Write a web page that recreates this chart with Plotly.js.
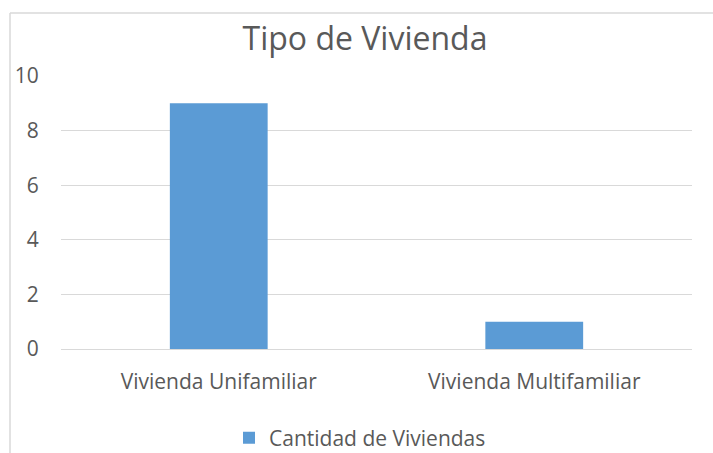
<!DOCTYPE html>
<html>
<head>
<meta charset="utf-8">
<script src="https://cdn.plot.ly/plotly-3.0.1.min.js"></script>
<style>html,body{margin:0;padding:0;background:#fff;}#chart{width:713px;height:453px;}</style>
</head>
<body>
<div id="chart"></div>
<script>
const categories = ["Vivienda Unifamiliar", "Vivienda Multifamiliar"];
const cantidad = [9, 1];
const seriesName = "Cantidad de Viviendas";
const chartTitle = "Tipo de Vivienda";
const yTicks = [0, 2, 4, 6, 8, 10];

const textColor = "#595959";
const gridColor = "#d9d9d9";
const fontFam = "'Open Sans', 'Noto Sans', sans-serif";

const W = 713, H = 453;
const m = {l: 61, r: 21, t: 76, b: 104};
const pw = W - m.l - m.r, ph = H - m.t - m.b;
const px = v => (v - m.l) / pw;
const py = v => (H - m.b - v) / ph;

const data = [{
  type: "bar",
  x: categories,
  y: cantidad,
  name: seriesName,
  marker: {color: "#5B9BD5"},
  showlegend: true
}];

const layout = {
  width: W, height: H,
  margin: m,
  paper_bgcolor: "#ffffff",
  plot_bgcolor: "#ffffff",
  font: {family: fontFam, color: textColor, size: 21},
  title: {
    text: chartTitle,
    font: {size: 32, color: textColor, family: fontFam},
    xref: "container", x: 365 / W, xanchor: "center",
    yref: "container", y: 1 - 39 / H, yanchor: "middle"
  },
  bargap: 0.69,
  xaxis: {
    type: "category",
    showgrid: false,
    showline: false,
    zeroline: false,
    ticks: "outside", ticklen: 14, tickcolor: "rgba(0,0,0,0)",
    tickfont: {size: 21, color: textColor}
  },
  yaxis: {
    range: [0, 10],
    tickvals: yTicks,
    showgrid: true, gridcolor: gridColor, gridwidth: 1,
    zeroline: true, zerolinecolor: gridColor, zerolinewidth: 1,
    showline: false,
    ticks: "outside", ticklen: 17, tickcolor: "rgba(0,0,0,0)",
    tickfont: {size: 21, color: textColor}
  },
  showlegend: true,
  legend: {
    orientation: "h",
    xref: "container", x: 360 / W, xanchor: "center",
    yref: "container", y: (H - 438) / H, yanchor: "middle",
    font: {size: 21, color: textColor},
    itemwidth: 30
  },
  shapes: [
    {type: "line", xref: "paper", yref: "paper", x0: px(10), x1: px(10), y0: py(13), y1: py(H + 5), line: {color: gridColor, width: 1.5}},
    {type: "line", xref: "paper", yref: "paper", x0: px(10), x1: px(W + 5), y0: py(13), y1: py(13), line: {color: gridColor, width: 1.5}}
  ]
};

Plotly.newPlot("chart", data, layout, {displayModeBar: false, staticPlot: true});
</script>
</body>
</html>
